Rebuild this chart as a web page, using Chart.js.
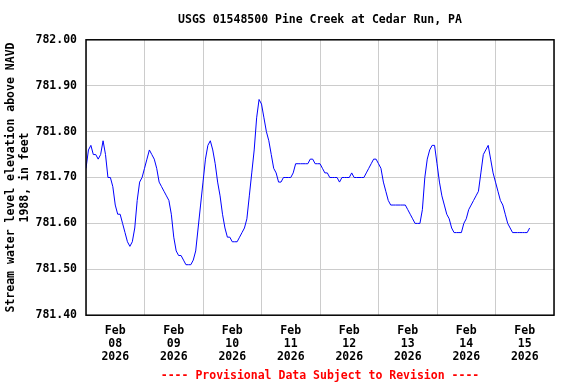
<!DOCTYPE html>
<html>
<head>
<meta charset="utf-8">
<script src="https://cdn.jsdelivr.net/npm/chart.js@4/dist/chart.umd.min.js"></script>
<style>
  body { margin: 0; background: #fff; }
  #wrap { width: 576px; height: 384px; }
</style>
</head>
<body>
<div id="wrap"><canvas id="myChart" width="576" height="384"></canvas></div>
<script>
// hourly gage height readings, one array per day (starting 00:00)
const feb08 = [781.72, 781.76, 781.77, 781.75, 781.75, 781.74, 781.75, 781.78, 781.75, 781.70, 781.70, 781.68,
               781.64, 781.62, 781.62, 781.60, 781.58, 781.56, 781.55, 781.56, 781.59, 781.65, 781.69, 781.70];
const feb09 = [781.72, 781.74, 781.76, 781.75, 781.74, 781.72, 781.69, 781.68, 781.67, 781.66, 781.65, 781.62,
               781.57, 781.54, 781.53, 781.53, 781.52, 781.51, 781.51, 781.51, 781.52, 781.54, 781.59, 781.64];
const feb10 = [781.69, 781.74, 781.77, 781.78, 781.76, 781.73, 781.69, 781.66, 781.62, 781.59, 781.57, 781.57,
               781.56, 781.56, 781.56, 781.57, 781.58, 781.59, 781.61, 781.66, 781.71, 781.76, 781.83, 781.87];
const feb11 = [781.86, 781.83, 781.80, 781.78, 781.75, 781.72, 781.71, 781.69, 781.69, 781.70, 781.70, 781.70,
               781.70, 781.71, 781.73, 781.73, 781.73, 781.73, 781.73, 781.73, 781.74, 781.74, 781.73, 781.73];
const feb12 = [781.73, 781.72, 781.71, 781.71, 781.70, 781.70, 781.70, 781.70, 781.69, 781.70, 781.70, 781.70,
               781.70, 781.71, 781.70, 781.70, 781.70, 781.70, 781.70, 781.71, 781.72, 781.73, 781.74, 781.74];
const feb13 = [781.73, 781.72, 781.69, 781.67, 781.65, 781.64, 781.64, 781.64, 781.64, 781.64, 781.64, 781.64,
               781.63, 781.62, 781.61, 781.60, 781.60, 781.60, 781.63, 781.70, 781.74, 781.76, 781.77, 781.77];
const feb14 = [781.73, 781.69, 781.66, 781.64, 781.62, 781.61, 781.59, 781.58, 781.58, 781.58, 781.58, 781.60,
               781.61, 781.63, 781.64, 781.65, 781.66, 781.67, 781.71, 781.75, 781.76, 781.77, 781.74, 781.71];
const feb15 = [781.69, 781.67, 781.65, 781.64, 781.62, 781.60, 781.59, 781.58, 781.58, 781.58, 781.58, 781.58,
               781.58, 781.58, 781.59];

const days = ['08', '09', '10', '11', '12', '13', '14', '15'];
const yTicks = [781.40, 781.50, 781.60, 781.70, 781.80, 781.90, 782.00];

const FONT = '"DejaVu Sans Mono", "Liberation Mono", monospace';

// build points, x = hours since Feb 08 00:00
const points = [];
[feb08, feb09, feb10, feb11, feb12, feb13, feb14, feb15].forEach(function (day, d) {
    day.forEach(function (v, h) {
        points.push({ x: d * 24 + h, y: v });
    });
});

const frame = {
    id: 'frame',
    afterDraw(chart) {
        const a = chart.chartArea;
        const ctx = chart.ctx;
        ctx.save();
        ctx.strokeStyle = '#000';
        ctx.lineWidth = 1.5;
        ctx.strokeRect(a.left, a.top, a.right - a.left, a.bottom - a.top);
        ctx.restore();
    }
};

Chart.defaults.font.family = FONT;
Chart.defaults.font.weight = 'bold';
Chart.defaults.font.size = 11.5;
Chart.defaults.color = '#000';

const config = {
    type: 'line',
    data: {
        datasets: [{
            data: points,
            borderColor: '#0000ff',
            borderWidth: 1,
            pointRadius: 0,
            fill: false,
            tension: 0
        }]
    },
    options: {
        responsive: false,
        animation: false,
        layout: { padding: { left: 0, right: 22, top: 0, bottom: 0 } },
        plugins: {
            legend: { display: false },
            tooltip: { enabled: false },
            title: {
                display: true,
                fullSize: false,
                text: 'USGS 01548500 Pine Creek at Cedar Run, PA',
                font: { size: 11.5, weight: 'bold', lineHeight: 1.2 },
                color: '#000',
                padding: { top: 13, bottom: 13 }
            },
            subtitle: {
                display: true,
                fullSize: false,
                position: 'bottom',
                text: '---- Provisional Data Subject to Revision ----',
                font: { size: 11.5, weight: 'bold', lineHeight: 1.2 },
                color: '#ff0000',
                padding: { top: 5, bottom: 1 }
            }
        },
        scales: {
            x: {
                type: 'linear',
                min: 0,
                max: 192,
                afterBuildTicks: function (scale) {
                    const t = [];
                    for (let h = 0; h <= 192; h += 12) t.push({ value: h });
                    scale.ticks = t;
                },
                afterFit: function (scale) { scale.height = 49; },
                ticks: {
                    autoSkip: false,
                    maxRotation: 0,
                    padding: 9,
                    font: { lineHeight: 1.13 },
                    callback: function (v) {
                        if (v % 24 !== 12) return '';
                        return ['Feb', days[(v - 12) / 24], '2026'];
                    }
                },
                grid: {
                    drawTicks: false,
                    color: function (ctx) {
                        return ctx.tick && ctx.tick.value % 24 === 0 ? '#cccccc' : 'rgba(0,0,0,0)';
                    }
                },
                border: { display: false }
            },
            y: {
                min: 781.4,
                max: 782.0,
                afterBuildTicks: function (scale) {
                    scale.ticks = yTicks.map(function (v) { return { value: v }; });
                },
                afterFit: function (scale) { scale.width = 86; },
                ticks: {
                    padding: 9,
                    callback: function (v) { return v.toFixed(2); }
                },
                grid: { drawTicks: false, color: '#cccccc' },
                border: { display: false },
                title: {
                    display: true,
                    text: ['Stream water level elevation above NAVD', '1988, in feet'],
                    font: { size: 11.5, weight: 'bold', lineHeight: 1.2 },
                    padding: { top: 4, bottom: 0 }
                }
            }
        }
    },
    plugins: [frame]
};

const myChart = new Chart(document.getElementById('myChart'), config);
</script>
</body>
</html>
